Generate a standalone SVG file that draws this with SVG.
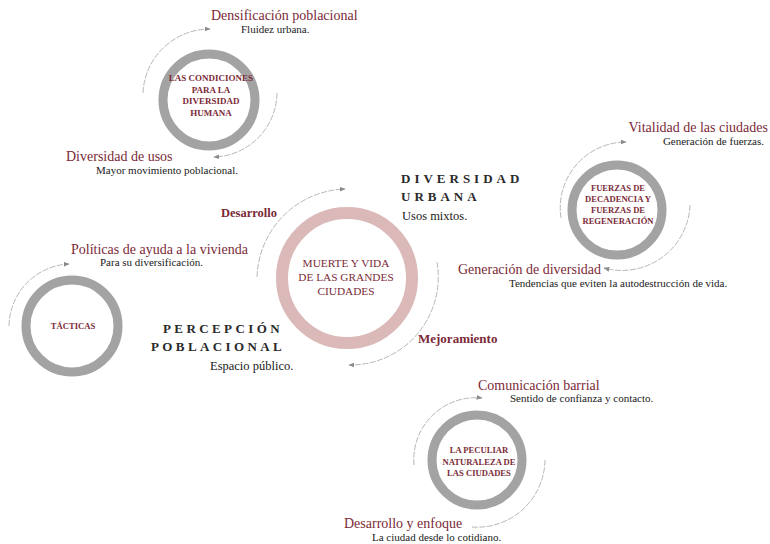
<svg xmlns="http://www.w3.org/2000/svg" width="770" height="544" viewBox="0 0 770 544">
<defs>
<marker id="ah" viewBox="0 0 10 10" refX="9" refY="5" markerWidth="6" markerHeight="6" markerUnits="userSpaceOnUse" orient="auto">
<path d="M0 1 L10 5 L0 9 Z" fill="#8a8a8a"/>
</marker>
</defs>
<style>
.ring{fill:none;stroke:#a3a3a3;stroke-width:9}
.pink{fill:none;stroke:#dbb9b9;stroke-width:12}
.arc{fill:none;stroke:#9f9f9f;stroke-width:0.75;stroke-dasharray:6 1.5}
.in{font-family:"Liberation Serif",serif;font-weight:bold;font-size:8.6px;fill:#7b2a37;text-anchor:middle}
.ctr{font-family:"Liberation Serif",serif;font-size:11.3px;fill:#7b2a37;text-anchor:middle}
.head{font-family:"Liberation Serif",serif;font-size:14px;fill:#7b2a37}
.sub{font-family:"Liberation Serif",serif;font-size:11px;fill:#1a1a1a}
.bold{font-family:"Liberation Serif",serif;font-weight:bold;font-size:12.5px;fill:#7b2a37}
.cap{font-family:"Liberation Serif",serif;font-weight:bold;font-size:13px;fill:#2a2a2a;letter-spacing:4px}
</style>
<rect width="770" height="544" fill="#ffffff"/>
<g id="connectors">
<path class="arc" d="M143 93 A67 67 0 0 1 210 29" marker-end="url(#ah)"/>
<path class="arc" d="M277 93 A65 65 0 0 1 214 157" marker-end="url(#ah)"/>
<path class="arc" d="M257 277 A91 91 0 0 1 345 189" marker-end="url(#ah)"/>
<path class="arc" d="M437 262 A88 88 0 0 1 349 365" marker-end="url(#ah)"/>
<path class="arc" d="M561 218 A66 66 0 0 1 626 142" marker-end="url(#ah)"/>
<path class="arc" d="M690 205 A68 68 0 0 1 604 268" marker-end="url(#ah)"/>
<path class="arc" d="M9 326 A63 63 0 0 1 69 264" marker-end="url(#ah)"/>
<path class="arc" d="M414 465 A62 62 0 0 1 482 398" marker-end="url(#ah)"/>
<path class="arc" d="M545 460 A68 68 0 0 1 472 527"/>
</g>
<g id="node-condiciones">
<circle class="ring" cx="209" cy="100" r="46"/>
<text class="in" style="font-size:9px" x="211" y="81">LAS CONDICIONES</text>
<text class="in" style="font-size:9px" x="211" y="92.5">PARA LA</text>
<text class="in" style="font-size:9px" x="211" y="104">DIVERSIDAD</text>
<text class="in" style="font-size:9px" x="211" y="115.5">HUMANA</text>
</g>
<g id="label-densificacion">
<text class="head" x="211" y="20">Densificación poblacional</text>
<text class="sub" x="241" y="33">Fluidez urbana.</text>
</g>
<g id="label-diversidad-usos">
<text class="head" x="66" y="161">Diversidad de usos</text>
<text class="sub" x="96" y="174">Mayor movimiento poblacional.</text>
</g>
<g id="node-fuerzas">
<circle class="ring" cx="617" cy="210" r="45"/>
<text class="in" x="618" y="191">FUERZAS DE</text>
<text class="in" x="618" y="202">DECADENCIA Y</text>
<text class="in" x="618" y="213">FUERZAS DE</text>
<text class="in" x="618" y="224">REGENERACIÓN</text>
</g>
<g id="label-vitalidad">
<text class="head" x="768" y="132" text-anchor="end">Vitalidad de las ciudades</text>
<text class="sub" x="764" y="145" text-anchor="end">Generación de fuerzas.</text>
</g>
<g id="label-generacion">
<text class="head" x="601" y="274" text-anchor="end">Generación de diversidad</text>
<text class="sub" x="509" y="287">Tendencias que eviten la autodestrucción de vida.</text>
</g>
<g id="node-muerte">
<circle class="pink" cx="347" cy="278" r="65"/>
<text class="ctr" x="346" y="267">MUERTE Y VIDA</text>
<text class="ctr" x="346" y="281">DE LAS GRANDES</text>
<text class="ctr" x="346" y="295">CIUDADES</text>
</g>
<g id="label-desarrollo">
<text class="bold" x="277" y="217" text-anchor="end">Desarrollo</text>
</g>
<g id="label-diversidad-urbana">
<text class="cap" x="401" y="183">DIVERSIDAD</text>
<text class="cap" x="401" y="201">URBANA</text>
<text class="sub" style="font-size:12.5px" x="402" y="220">Usos mixtos.</text>
</g>
<g id="label-mejoramiento">
<text class="bold" style="font-size:13px" x="418" y="343">Mejoramiento</text>
</g>
<g id="label-percepcion">
<text class="cap" style="letter-spacing:3.4px" x="163" y="333">PERCEPCIÓN</text>
<text class="cap" style="letter-spacing:3.4px" x="151" y="351">POBLACIONAL</text>
<text class="sub" style="font-size:12.5px" x="210" y="370">Espacio público.</text>
</g>
<g id="node-tacticas">
<circle class="ring" cx="72" cy="326" r="46"/>
<text class="in" x="73" y="329">TÁCTICAS</text>
</g>
<g id="label-politicas">
<text class="head" x="71" y="254">Políticas de ayuda a la vivienda</text>
<text class="sub" x="100" y="266">Para su diversificación.</text>
</g>
<g id="node-peculiar">
<circle class="ring" cx="477" cy="460" r="45"/>
<text class="in" x="479" y="453">LA PECULIAR</text>
<text class="in" x="479" y="464.5">NATURALEZA DE</text>
<text class="in" x="479" y="476">LAS CIUDADES</text>
</g>
<g id="label-comunicacion">
<text class="head" x="478" y="390">Comunicación barrial</text>
<text class="sub" x="510" y="402">Sentido de confianza y contacto.</text>
</g>
<g id="label-enfoque">
<text class="head" x="344" y="528">Desarrollo y enfoque</text>
<text class="sub" x="372" y="541">La ciudad desde lo cotidiano.</text>
</g>
</svg>
